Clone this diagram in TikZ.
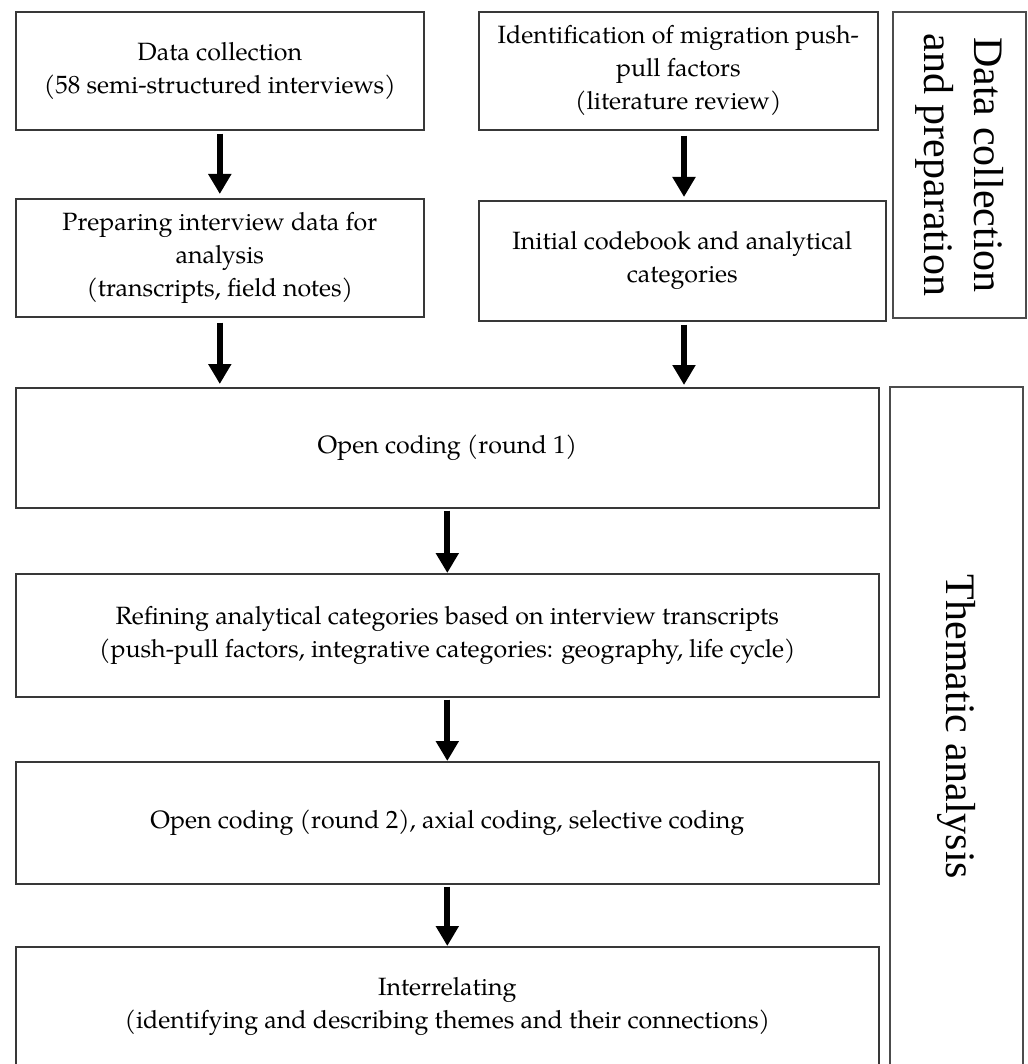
\documentclass[tikz,border=0pt]{standalone}
\usepackage{fontspec}
\setmainfont{TeX Gyre Pagella}
\newfontfamily\sidefont{Liberation Serif}
\usetikzlibrary{arrows.meta}
\begin{document}
\begin{tikzpicture}[x=1pt,y=-1pt,
  box/.style={draw=black!78, line width=1.6pt, inner sep=0pt, align=center,
    font=\fontsize{25}{33}\selectfont, anchor=north west},
  flow/.style={line width=6pt, -{Triangle[width=22pt,length=20pt]}, black},
  side/.style={draw=black!70, line width=1.6pt, inner sep=0pt, align=center,
    font=\sidefont\fontsize{42}{50}\selectfont, rotate=-90}
]
\useasboundingbox (0,0) rectangle (1027,1064);
\clip (0,0) rectangle (1027,1064);

\node[box, minimum width=408pt, minimum height=118pt] (A) at (15,11)
  {Data collection\\(58 semi-structured interviews)};
\node[box, minimum width=399pt, minimum height=118pt] (B) at (478,11)
  {Identification of migration push-\\pull factors\\(literature review)};
\node[box, minimum width=408pt, minimum height=118pt] (C) at (15,198)
  {Preparing interview data for\\analysis\\(transcripts, field notes)};
\node[box, minimum width=407pt, minimum height=120pt] (D) at (478,200)
  {Initial codebook and analytical\\categories};
\node[box, minimum width=863pt, minimum height=120pt] (E) at (15,387)
  {Open coding (round 1)};
\node[box, minimum width=863pt, minimum height=123pt] (F) at (15,573)
  {Refining analytical categories based on interview transcripts\\(push-pull factors, integrative categories: geography, life cycle)};
\node[box, minimum width=863pt, minimum height=122pt] (G) at (15,761)
  {Open coding (round 2), axial coding, selective coding};
\node[box, minimum width=863pt, minimum height=120pt] (H) at (15,946)
  {Interrelating\\(identifying and describing themes and their connections)};

\node[side, minimum width=306pt, minimum height=133pt] (S1) at (959.5,165)
  {Data collection\\and preparation};
\node[side, minimum width=680pt, minimum height=133pt] (S2) at (956.5,727)
  {Thematic analysis};

\coordinate (rc) at (684,0);
\draw[flow] ([yshift=-3pt]A.south) -- ([yshift=4pt]C.north);
\draw[flow] ([yshift=-5pt]C.south) -- ([yshift=3pt]C.south |- E.north);
\draw[flow] ([yshift=-5pt]B.south -| rc) -- ([yshift=3pt]D.north -| rc);
\draw[flow] ([yshift=-3pt]D.south -| rc) -- ([yshift=2pt]E.north -| rc);
\draw[flow] ([yshift=-2pt]E.south) -- (F.north);
\draw[flow] ([yshift=-2pt]F.south) -- (G.north);
\draw[flow] ([yshift=-2pt]G.south) -- (H.north);
\end{tikzpicture}
\end{document}
